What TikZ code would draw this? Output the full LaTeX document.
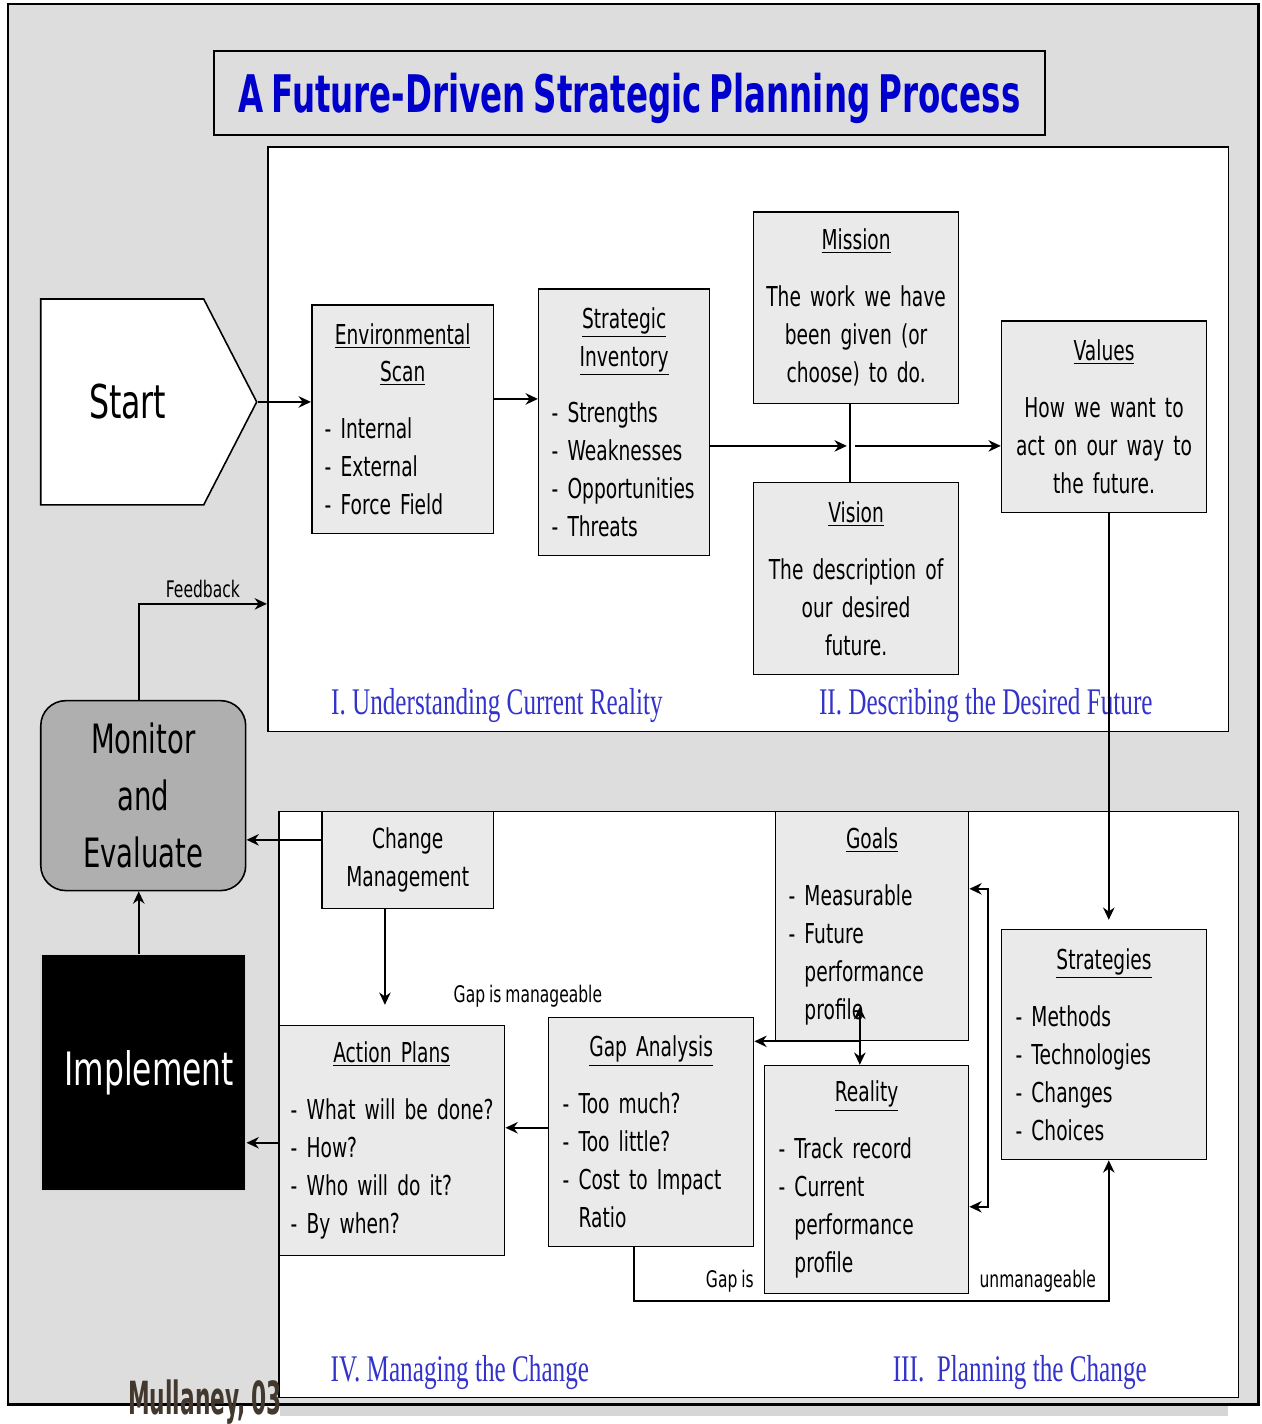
\documentclass[tikz,border=0pt]{standalone}
\usepackage{fontspec}
\setmainfont{DejaVu Sans}[FakeStretch=0.68, WordSpace=0.8]
\newfontfamily\titlefont{DejaVu Sans}[FakeStretch=0.627, WordSpace=0.7]
\newfontfamily\secfont{Liberation Serif}[FakeStretch=0.67]
\usetikzlibrary{arrows.meta,shapes.symbols,positioning}
\definecolor{bggray}{RGB}{221,221,221}
\definecolor{boxgray}{RGB}{234,234,234}
\definecolor{monigray}{RGB}{175,175,175}
\definecolor{titleblue}{RGB}{0,0,204}
\definecolor{secblue}{RGB}{51,51,204}
\definecolor{signbrown}{RGB}{66,56,46}
\definecolor{shadegray}{RGB}{214,214,214}
\newcommand{\bodyfont}{\fontsize{15.6}{21.6}\selectfont}
\newcommand{\smallfont}{\fontsize{13}{16}\selectfont}
\newcommand{\hgap}{\par\vspace{10.8pt}}

\begin{document}
\begin{tikzpicture}[x=0.02cm, y=-0.02cm,
    box/.style={draw, fill=boxgray, line width=0.9pt, anchor=north west, inner xsep=0.26cm, inner ysep=0pt, font=\bodyfont},
    panel/.style={draw, fill=white, line width=0.9pt, anchor=north west, inner sep=0pt},
    sec/.style={font=\secfont\fontsize{21.4}{24}\selectfont, text=secblue, inner sep=0pt},
    lbl/.style={font=\smallfont, inner sep=0pt},
    arr/.style={->, >={Stealth[length=7pt,width=6.5pt]}, line width=1.1pt},
    dbl/.style={<->, >={Stealth[length=7pt,width=6.5pt]}, line width=1.1pt}]

    % frame and panels
    \fill[white] (0,0) rectangle (1262,1424);
    \fill[shadegray] (280,1405) rectangle (1228,1416);
    \draw[fill=bggray, line width=1.6pt] (8,4) rectangle (1259,1405);
    \node[draw, line width=1.3pt, fill=bggray, anchor=north west, minimum width=16.62cm, minimum height=1.68cm,
          text depth=0pt, font=\titlefont\bfseries\fontsize{29.5}{32}\selectfont, text=titleblue] (title) at (213,50)
          {A Future-Driven Strategic Planning Process};
    \node[panel, minimum width=19.22cm, minimum height=11.7cm] (upper) at (267,146) {};
    \node[panel, minimum width=19.2cm, minimum height=11.72cm] (lower) at (278,811) {};

    \node[sec] (sec1) at (497,706) {I. Understanding Current Reality};
    \node[sec] (sec2) at (986,706) {II. Describing the Desired Future};
    \node[sec] (sec4) at (460,1373) {IV. Managing the Change};
    \node[sec] (sec3) at (1020,1373) {III.\ \ Planning the Change};

    % left column
    \node[draw, fill=white, line width=0.9pt, signal, signal to=east, signal pointer angle=125.5,
          minimum width=4.32cm, minimum height=4.12cm, anchor=west, inner sep=0pt,
          font=\fontsize{26.5}{30}\selectfont] (start) at (40,402) {\hspace{0.22cm}Start};
    \node[draw, fill=monigray, line width=0.9pt, rounded corners=0.5cm, anchor=north west, minimum width=4.1cm,
          minimum height=3.8cm, align=center, font=\fontsize{23}{32.3}\selectfont] (monitor) at (40,700)
          {Monitor\\and\\Evaluate};
    \node[draw=shadegray, fill=black, text=white, line width=0.9pt, anchor=north west, minimum width=4.1cm,
          minimum height=4.72cm, font=\fontsize{26.2}{30}\selectfont] (impl) at (40,954) {\hspace{0.24cm}Implement};

    % upper boxes
    \node[box, minimum width=3.64cm, minimum height=4.58cm, text width=3.12cm] (env) at (311,304)
        {{\centering\underline{Environmental}\\\underline{Scan}\par}\vspace{10.8pt}- Internal\\- External\\- Force Field};
    \node[box, minimum width=3.42cm, minimum height=5.34cm, text width=2.9cm] (inv) at (538,288)
        {{\centering\underline{Strategic}\\\underline{Inventory}\par}\vspace{10.8pt}- Strengths\\- Weaknesses\\- Opportunities\\- Threats};
    \node[box, inner xsep=0.1cm, minimum width=4.1cm, minimum height=3.84cm, text width=3.9cm, align=center] (mission) at (753,211)
        {\underline{Mission}\hgap The work we have\\been given (or\\choose) to do.};
    \node[box, inner xsep=0.1cm, minimum width=4.1cm, minimum height=3.84cm, text width=3.9cm, align=center] (vision) at (753,482)
        {\underline{Vision}\hgap The description of\\our desired\\future.};
    \node[box, inner xsep=0.1cm, minimum width=4.1cm, minimum height=3.84cm, text width=3.9cm, align=center] (values) at (1001,320)
        {\underline{Values}\hgap How we want to\\act on our way to\\the future.};

    % lower boxes
    \node[box, minimum width=3.44cm, minimum height=1.94cm, align=center] (change) at (321,811)
        {\raisebox{-0.16cm}{Change}\\\raisebox{-0.16cm}{Management}};
    \node[box, inner xsep=0.24cm, minimum width=4.52cm, minimum height=4.6cm, text width=4.04cm] (action) at (278,1025)
        {{\centering\underline{Action Plans}\par}\vspace{10.8pt}\mbox{- What will be done?}\\- How?\\- Who will do it?\\- By when?};
    \node[box, inner xsep=0.28cm, minimum width=4.1cm, minimum height=4.58cm, text width=3.54cm] (gap) at (548,1017)
        {{\centering\underline{Gap Analysis}\par}\vspace{10.8pt}- Too much?\\- Too little?\\- Cost to Impact\\\phantom{- }Ratio};
    \node[box, minimum width=3.86cm, minimum height=4.58cm, text width=3.34cm] (goals) at (775,811)
        {{\centering\underline{Goals}\par}\vspace{10.8pt}- Measurable\\- Future\\\phantom{- }performance\\\phantom{- }profile};
    \node[box, inner xsep=0.28cm, minimum width=4.08cm, minimum height=4.56cm, text width=3.52cm] (reality) at (764,1065)
        {{\centering\underline{Reality}\par}\vspace{10.8pt}- Track record\\- Current\\\phantom{- }performance\\\phantom{- }profile};
    \node[box, inner xsep=0.28cm, minimum width=4.1cm, minimum height=4.6cm, text width=3.54cm] (strategies) at (1001,929)
        {{\centering\underline{Strategies}\par}\vspace{10.8pt}- Methods\\- Technologies\\- Changes\\- Choices};

    % connectors
    \coordinate (join) at (850,446);
    \coordinate (gtip) at (860,1007);
    \draw[arr] (start.east) -- (start.east -| env.west);
    \draw[arr] (env.east |- 0,399) -- (inv.west |- 0,399);
    \draw[line width=0.9pt] (mission.south -| join) -- (vision.north -| join);
    \draw[arr] (inv.east |- join) -- ([xshift=-0.06cm]join);
    \draw[arr] ([xshift=0.1cm]join) -- (values.west |- join);
    \draw[arr, shorten >=0.18cm] (values.south -| 1109,0) -- (strategies.north -| 1109,0);
    \draw[arr] ([xshift=-0.09cm]monitor.north) |- (upper.west |- 0,604) node[lbl, pos=0.75, above=0.1cm] (fb) {Feedback};
    \draw[arr] ([xshift=-0.09cm]impl.north) -- ([xshift=-0.09cm]monitor.south);
    \draw[arr] (change.west |- 0,840) -- (monitor.east |- 0,840);
    \draw[arr, shorten >=0.4cm] (change.south -| 385,0) -- (action.north -| 385,0);
    \draw[arr] (action.west |- 0,1143) -- (impl.east |- 0,1143);
    \draw[arr] (gap.west |- 0,1128) -- (action.east |- 0,1128);
    \draw[arr] (goals.south -| gtip) -- (gap.east |- goals.south);
    \draw[dbl] (gtip) -- (reality.north -| gtip);
    \draw[dbl] (goals.east |- 0,889) -- (988,889) -- (988,1207) -- (reality.east |- 0,1207);
    \draw[arr] (gap.south -| 634,0) -- (634,1301) -- (1109,1301) -- (strategies.south -| 1109,0);

    \node[lbl] (manage) at (528,996) {Gap is manageable};
    \node[lbl] (gapis) at (730,1281) {Gap is};
    \node[lbl] (unman) at (1038,1281) {unmanageable};

    \node[font=\titlefont\bfseries\fontsize{26}{28}\selectfont, text=signbrown, inner sep=0pt] (sign) at (205,1402)
        {\scalebox{0.76}[1]{Mullaney, 03}};
\end{tikzpicture}
\end{document}
